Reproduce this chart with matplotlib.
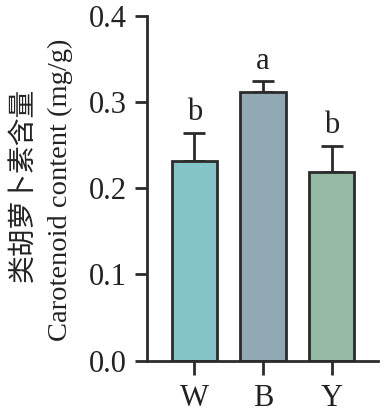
import numpy as np
import matplotlib
matplotlib.use("Agg")
import matplotlib.pyplot as plt

# Data
groups = ["W", "B", "Y"]
means = [0.232, 0.311, 0.219]
errs = [0.032, 0.013, 0.030]
letters = ["b", "a", "b"]
colors = ["#86c3c9", "#91a8b5", "#95bba6"]

plt.rcParams['font.family'] = ['Liberation Serif', 'Noto Sans CJK SC']
plt.rcParams['font.size'] = 22

fig = plt.figure(figsize=(3.87, 4.13), dpi=100)
ax = fig.add_axes([0.379, 0.1266, 0.5985, 0.8354])

x = np.arange(len(groups))
edge = "#2b2b2b"
ax.bar(x, means, width=0.655, color=colors, edgecolor=edge, linewidth=2, zorder=2)
ax.errorbar(x, means, yerr=[np.zeros(len(errs)), errs], fmt="none",
            ecolor=edge, elinewidth=2, capsize=8, capthick=2, zorder=1)

for xi, m, e, lab in zip(x, means, errs, letters):
    ax.annotate(lab, (xi, m + e), xytext=(0, 4), textcoords="offset points",
                ha="center", va="bottom", fontsize=22, color="#222222")

ax.set_xlim(-0.693, 2.678)
ax.set_ylim(0, 0.4)
ax.set_yticks([0.0, 0.1, 0.2, 0.3, 0.4])
ax.set_yticklabels(["0.0", "0.1", "0.2", "0.3", "0.4"])
ax.set_xticks(x)
ax.set_xticklabels(groups)

for s in ["top", "right"]:
    ax.spines[s].set_visible(False)
for s in ["left", "bottom"]:
    ax.spines[s].set_linewidth(2)
    ax.spines[s].set_color(edge)

ax.tick_params(axis="y", length=8.6, width=2, color=edge, pad=6,
               labelcolor="#222222")
ax.tick_params(axis="x", length=10, width=2, color=edge, pad=7,
               labelcolor="#222222")

fig.text(0.057, 0.552, "类胡萝卜素含量", rotation=90, ha="center", va="center",
         fontsize=20, family=['Noto Sans CJK SC'], color="#222222")
fig.text(0.155, 0.54, "Carotenoid content (mg/g)", rotation=90, ha="center",
         va="center", fontsize=20.5, color="#222222")

fig.savefig("out.png", dpi=100)
